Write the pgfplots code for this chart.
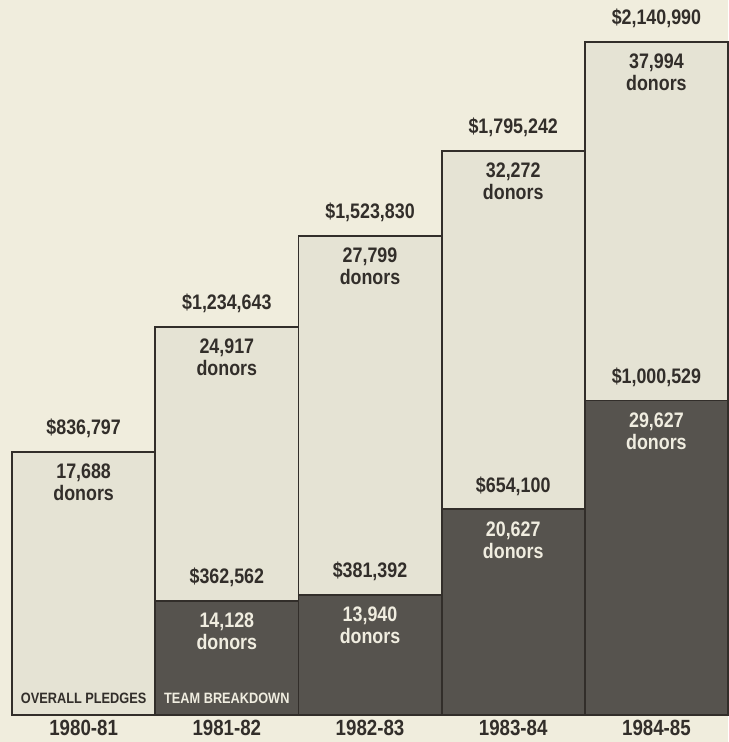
\documentclass[border=0pt]{standalone}
\usepackage{pgfplots}
\pgfplotsset{compat=1.18}
\usepackage{fontspec}
\setmainfont{Liberation Sans}[FakeStretch=0.85]
\definecolor{bg}{RGB}{240,237,221}
\definecolor{lightbar}{RGB}{229,227,212}
\definecolor{darkbar}{RGB}{86,83,78}
\definecolor{ink}{RGB}{50,46,42}
\definecolor{paper}{RGB}{240,237,224}
\begin{document}
\begin{tikzpicture}
\useasboundingbox (0,0) rectangle (364pt,371pt);
\fill[bg] (0,0) rectangle (364pt,371pt);
\begin{axis}[
  at={(0pt,13.5pt)}, anchor=south west,
  scale only axis, width=364pt, height=357.5pt,
  xmin=-0.584, xmax=4.5, ymin=0, ymax=2274600,
  axis line style={draw=none}, tick style={draw=none},
  ytick=\empty,
  xtick={0,1,2,3,4},
  xticklabels={1980-81,1981-82,1982-83,1983-84,1984-85},
  xticklabel style={font=\fontsize{11}{12}\selectfont\bfseries, text=ink, yshift=1pt},
  clip=false,
]
% overall pledges
\addplot[ybar, bar width=1, bar shift=0pt, fill=lightbar, draw=ink, line width=0.9pt]
  coordinates {(0,836797) (1,1234643) (2,1523830) (3,1795242) (4,2140990)};
% team breakdown
\addplot[ybar, bar width=1, bar shift=0pt, fill=darkbar, draw=ink, line width=0.9pt]
  coordinates {(1,362562) (2,381392) (3,654100) (4,1000529)};

\tikzset{
  amt/.style={anchor=south, font=\fontsize{10.5}{11}\selectfont\bfseries, text=ink, yshift=3.5pt},
  don/.style={anchor=north, align=center, font=\fontsize{10.5}{11}\selectfont\bfseries, text=ink, yshift=-2.5pt},
  donw/.style={don, text=paper},
}
% overall labels
\node[amt] at (axis cs:0,836797) {\$836,797};
\node[don] at (axis cs:0,836797) {17,688\\donors};
\node[amt] at (axis cs:1,1234643) {\$1,234,643};
\node[don] at (axis cs:1,1234643) {24,917\\donors};
\node[amt] at (axis cs:2,1523830) {\$1,523,830};
\node[don] at (axis cs:2,1523830) {27,799\\donors};
\node[amt] at (axis cs:3,1795242) {\$1,795,242};
\node[don] at (axis cs:3,1795242) {32,272\\donors};
\node[amt] at (axis cs:4,2140990) {\$2,140,990};
\node[don] at (axis cs:4,2140990) {37,994\\donors};
% team labels
\node[amt] at (axis cs:1,362562) {\$362,562};
\node[donw] at (axis cs:1,362562) {14,128\\donors};
\node[amt] at (axis cs:2,381392) {\$381,392};
\node[donw] at (axis cs:2,381392) {13,940\\donors};
\node[amt] at (axis cs:3,654100) {\$654,100};
\node[donw] at (axis cs:3,654100) {20,627\\donors};
\node[amt] at (axis cs:4,1000529) {\$1,000,529};
\node[donw] at (axis cs:4,1000529) {29,627\\donors};
% captions
\node[anchor=south, font=\fontsize{7.5}{8}\selectfont\bfseries, text=ink, yshift=2pt] at (axis cs:0,0) {OVERALL PLEDGES};
\node[anchor=south, font=\fontsize{7.5}{8}\selectfont\bfseries, text=paper, yshift=2pt] at (axis cs:1,0) {TEAM BREAKDOWN};
\end{axis}
\end{tikzpicture}
\end{document}
